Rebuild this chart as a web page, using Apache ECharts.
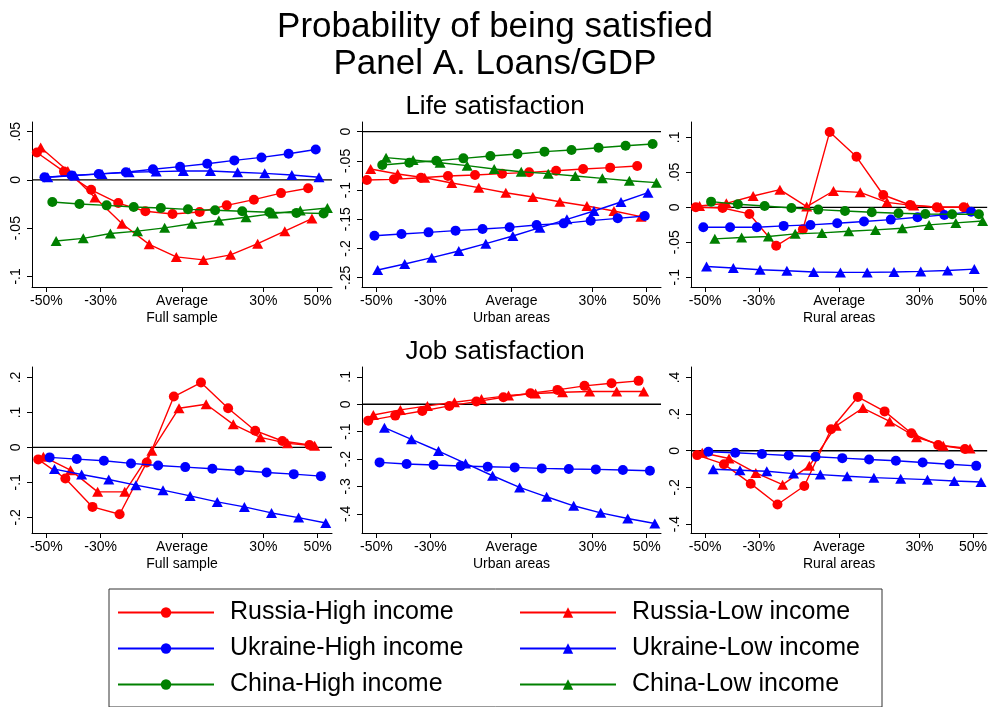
<!DOCTYPE html>
<html>
<head>
<meta charset="utf-8">
<script src="https://cdn.jsdelivr.net/npm/echarts@6/dist/echarts.min.js"></script>
<style>
  html, body { margin: 0; padding: 0; background: #fff; }
  #chart { width: 990px; height: 707px; }
</style>
</head>
<body>
<div id="chart"></div>
<script>
// Deviation of Loans/GDP from its average (percent)
const xLevels = [-50, -40, -30, -20, -10, 0, 10, 20, 30, 40, 50];
const xTicks = [-50, -30, 0, 30, 50];
// Small horizontal dodge per group (percentage points), so overlapping groups stay readable
const lifeDodge = [-3.5, -2.1, -0.7, 0.5, 2.2, 3.6];
const jobDodge = [-3.0, -1.1, 1.2, 3.0];

const seriesNames = [
  'Russia-High income', 'Russia-Low income',
  'Ukraine-High income', 'Ukraine-Low income',
  'China-High income', 'China-Low income'
];

// Life satisfaction — full sample
const lifeFullRussiaHigh  = [0.0284, 0.0086, -0.0103, -0.0240, -0.0325, -0.0353, -0.0332, -0.0264, -0.0205, -0.0137, -0.0086];
const lifeFullRussiaLow   = [0.0336, 0.0092, -0.0182, -0.0455, -0.0668, -0.0798, -0.0829, -0.0777, -0.0661, -0.0531, -0.0401];
const lifeFullUkraineHigh = [0.0027, 0.0045, 0.0062, 0.0079, 0.0110, 0.0137, 0.0168, 0.0202, 0.0233, 0.0271, 0.0315];
const lifeFullUkraineLow  = [0.0027, 0.0045, 0.0062, 0.0079, 0.0086, 0.0092, 0.0092, 0.0079, 0.0068, 0.0051, 0.0027];
const lifeFullChinaHigh   = [-0.0229, -0.0250, -0.0264, -0.0281, -0.0291, -0.0305, -0.0315, -0.0325, -0.0336, -0.0342, -0.0349];
const lifeFullChinaLow    = [-0.0634, -0.0606, -0.0555, -0.0531, -0.0497, -0.0455, -0.0421, -0.0387, -0.0349, -0.0318, -0.0291];

// Life satisfaction — urban areas
const lifeUrbanRussiaHigh  = [-0.0828, -0.0816, -0.0788, -0.0759, -0.0742, -0.0719, -0.0696, -0.0668, -0.0639, -0.0616, -0.0588];
const lifeUrbanRussiaLow   = [-0.0639, -0.0725, -0.0788, -0.0879, -0.0959, -0.1045, -0.1119, -0.1199, -0.1273, -0.1358, -0.1455];
const lifeUrbanUkraineHigh = [-0.1781, -0.1752, -0.1724, -0.1695, -0.1667, -0.1638, -0.1598, -0.1570, -0.1524, -0.1484, -0.1444];
const lifeUrbanUkraineLow  = [-0.2369, -0.2266, -0.2158, -0.2043, -0.1918, -0.1787, -0.1644, -0.1501, -0.1358, -0.1204, -0.1045];
const lifeUrbanChinaHigh   = [-0.0571, -0.0531, -0.0497, -0.0457, -0.0417, -0.0382, -0.0342, -0.0314, -0.0274, -0.0240, -0.0211];
const lifeUrbanChinaLow    = [-0.0445, -0.0485, -0.0531, -0.0582, -0.0639, -0.0685, -0.0719, -0.0759, -0.0799, -0.0839, -0.0873];

// Life satisfaction — rural areas
const lifeRuralRussiaHigh  = [0.0000, -0.0010, -0.0095, -0.0551, -0.0314, 0.1078, 0.0722, 0.0176, 0.0033, 0.0000, 0.0000];
const lifeRuralRussiaLow   = [0.0019, 0.0057, 0.0162, 0.0252, 0.0010, 0.0233, 0.0214, 0.0071, 0.0024, 0.0000, 0.0000];
const lifeRuralUkraineHigh = [-0.0285, -0.0285, -0.0285, -0.0266, -0.0252, -0.0228, -0.0204, -0.0176, -0.0143, -0.0109, -0.0062];
const lifeRuralUkraineLow  = [-0.0846, -0.0869, -0.0893, -0.0907, -0.0926, -0.0931, -0.0931, -0.0926, -0.0917, -0.0903, -0.0884];
const lifeRuralChinaHigh   = [0.0081, 0.0043, 0.0019, -0.0010, -0.0033, -0.0052, -0.0071, -0.0086, -0.0095, -0.0100, -0.0100];
const lifeRuralChinaLow    = [-0.0451, -0.0432, -0.0418, -0.0380, -0.0366, -0.0342, -0.0323, -0.0299, -0.0252, -0.0223, -0.0195];

// Job satisfaction — full sample
const jobFullRussiaHigh  = [-0.0344, -0.0890, -0.1703, -0.1914, -0.0431, 0.1455, 0.1856, 0.1120, 0.0478, 0.0182, 0.0067];
const jobFullRussiaLow   = [-0.0268, -0.0651, -0.1273, -0.1273, -0.0096, 0.1120, 0.1234, 0.0660, 0.0287, 0.0115, 0.0048];
const jobFullUkraineHigh = [-0.0287, -0.0335, -0.0383, -0.0459, -0.0517, -0.0565, -0.0612, -0.0660, -0.0718, -0.0766, -0.0823];
const jobFullUkraineLow  = [-0.0622, -0.0775, -0.0919, -0.1081, -0.1225, -0.1388, -0.1560, -0.1703, -0.1876, -0.2010, -0.2163];

// Job satisfaction — urban areas
const jobUrbanRussiaHigh  = [-0.0598, -0.0415, -0.0244, -0.0061, 0.0098, 0.0256, 0.0402, 0.0524, 0.0671, 0.0768, 0.0854];
const jobUrbanRussiaLow   = [-0.0390, -0.0207, -0.0061, 0.0073, 0.0195, 0.0317, 0.0390, 0.0439, 0.0463, 0.0463, 0.0463];
const jobUrbanUkraineHigh = [-0.2122, -0.2183, -0.2220, -0.2256, -0.2280, -0.2305, -0.2341, -0.2366, -0.2378, -0.2402, -0.2427];
const jobUrbanUkraineLow  = [-0.0854, -0.1280, -0.1707, -0.2159, -0.2610, -0.3037, -0.3378, -0.3707, -0.3963, -0.4171, -0.4354];

// Job satisfaction — rural areas
const jobRuralRussiaHigh  = [-0.0239, -0.0734, -0.1798, -0.2936, -0.1927, 0.1174, 0.2936, 0.2147, 0.0954, 0.0312, 0.0092];
const jobRuralRussiaLow   = [-0.0110, -0.0422, -0.1211, -0.1853, -0.0826, 0.1358, 0.2330, 0.1596, 0.0734, 0.0275, 0.0128];
const jobRuralUkraineHigh = [-0.0055, -0.0110, -0.0183, -0.0257, -0.0330, -0.0404, -0.0477, -0.0550, -0.0642, -0.0734, -0.0826];
const jobRuralUkraineLow  = [-0.1009, -0.1064, -0.1119, -0.1248, -0.1303, -0.1394, -0.1468, -0.1523, -0.1578, -0.1651, -0.1706];

// Y-axis tick labels for each panel
const lifeFullTicks  = [-0.1, -0.05, 0, 0.05];
const lifeUrbanTicks = [-0.25, -0.2, -0.15, -0.1, -0.05, 0];
const lifeRuralTicks = [-0.1, -0.05, 0, 0.05, 0.1];
const jobFullTicks   = [-0.2, -0.1, 0, 0.1, 0.2];
const jobUrbanTicks  = [-0.4, -0.3, -0.2, -0.1, 0, 0.1];
const jobRuralTicks  = [-0.4, -0.2, 0, 0.2, 0.4];

const FONT = '"Liberation Sans", Arial, Helvetica, sans-serif';
const RED = '#ff0000', BLUE = '#0000ff', GREEN = '#008000';
const styleByName = {
  'Russia-High income':  { color: RED,   symbol: 'circle' },
  'Russia-Low income':   { color: RED,   symbol: 'triangle' },
  'Ukraine-High income': { color: BLUE,  symbol: 'circle' },
  'Ukraine-Low income':  { color: BLUE,  symbol: 'triangle' },
  'China-High income':   { color: GREEN, symbol: 'circle' },
  'China-Low income':    { color: GREEN, symbol: 'triangle' }
};

const X_MIN = -55.3, X_MAX = 55.3;
const cols = [{ left: 32, width: 300 }, { left: 362, width: 299 }, { left: 691, width: 299 }];
const rows = [{ top: 122, height: 165 }, { top: 367, height: 166 }];

const panels = [
  { row: 0, col: 0, name: 'Full sample',  yMin: -0.111, yMax: 0.060, ticks: lifeFullTicks,  dodge: lifeDodge,
    values: [lifeFullRussiaHigh, lifeFullRussiaLow, lifeFullUkraineHigh, lifeFullUkraineLow, lifeFullChinaHigh, lifeFullChinaLow] },
  { row: 0, col: 1, name: 'Urban areas',  yMin: -0.266, yMax: 0.0166, ticks: lifeUrbanTicks, dodge: lifeDodge,
    values: [lifeUrbanRussiaHigh, lifeUrbanRussiaLow, lifeUrbanUkraineHigh, lifeUrbanUkraineLow, lifeUrbanChinaHigh, lifeUrbanChinaLow] },
  { row: 0, col: 2, name: 'Rural areas',  yMin: -0.114, yMax: 0.122, ticks: lifeRuralTicks, dodge: lifeDodge,
    values: [lifeRuralRussiaHigh, lifeRuralRussiaLow, lifeRuralUkraineHigh, lifeRuralUkraineLow, lifeRuralChinaHigh, lifeRuralChinaLow] },
  { row: 1, col: 0, name: 'Full sample',  yMin: -0.245, yMax: 0.230, ticks: jobFullTicks,  dodge: jobDodge,
    values: [jobFullRussiaHigh, jobFullRussiaLow, jobFullUkraineHigh, jobFullUkraineLow] },
  { row: 1, col: 1, name: 'Urban areas',  yMin: -0.470, yMax: 0.136, ticks: jobUrbanTicks, dodge: jobDodge,
    values: [jobUrbanRussiaHigh, jobUrbanRussiaLow, jobUrbanUkraineHigh, jobUrbanUkraineLow] },
  { row: 1, col: 2, name: 'Rural areas',  yMin: -0.449, yMax: 0.457, ticks: jobRuralTicks, dodge: jobDodge,
    values: [jobRuralRussiaHigh, jobRuralRussiaLow, jobRuralUkraineHigh, jobRuralUkraineLow] }
];

const fmtY = v => {
  if (Math.abs(v) < 1e-9) return '0';
  return String(+v.toFixed(3)).replace('0.', '.');
};
const fmtX = v => (Math.abs(v) < 1e-9 ? 'Average' : v + '%');

const axisTextStyle = { color: '#000', fontFamily: FONT, fontSize: 14 };

const grid = [], xAxis = [], yAxis = [], series = [];

panels.forEach((p, i) => {
  grid.push({ left: cols[p.col].left, width: cols[p.col].width, top: rows[p.row].top, height: rows[p.row].height, containLabel: false });

  xAxis.push({
    type: 'value', gridIndex: i, min: X_MIN, max: X_MAX,
    name: p.name, nameLocation: 'middle', nameGap: 24,
    nameTextStyle: { color: '#000', fontFamily: FONT, fontSize: 14 },
    axisLine: { show: true, onZero: false, lineStyle: { color: '#000', width: 1 } },
    axisTick: { show: true, length: 5, customValues: xTicks, lineStyle: { color: '#000' } },
    axisLabel: { ...axisTextStyle, margin: 7, customValues: xTicks, formatter: fmtX },
    splitLine: { show: false }
  });

  yAxis.push({
    type: 'value', gridIndex: i, min: p.yMin, max: p.yMax,
    axisLine: { show: true, onZero: false, lineStyle: { color: '#000', width: 1 } },
    axisTick: { show: true, length: 5, customValues: p.ticks, lineStyle: { color: '#000' } },
    axisLabel: { ...axisTextStyle, margin: 9, rotate: 90, customValues: p.ticks, formatter: fmtY },
    splitLine: { show: false }
  });

  // Reference line at zero
  series.push({
    name: 'zero', type: 'line', xAxisIndex: i, yAxisIndex: i, z: 1,
    data: [[X_MIN, 0], [X_MAX, 0]], symbol: 'none', silent: true,
    lineStyle: { color: '#000', width: 1.3 }
  });

  p.values.forEach((vals, k) => {
    const name = seriesNames[k];
    const st = styleByName[name];
    series.push({
      name, type: 'line', xAxisIndex: i, yAxisIndex: i, z: 2 + k,
      data: vals.map((v, j) => [xLevels[j] + p.dodge[k], v]),
      symbol: st.symbol,
      symbolSize: st.symbol === 'circle' ? 10 : [11, 10],
      showSymbol: true,
      itemStyle: { color: st.color },
      lineStyle: { color: st.color, width: 1.4 },
      emphasis: { disabled: true }
    });
  });
});

const legendText = { color: '#000', fontFamily: FONT, fontSize: 25, lineHeight: 25, padding: [0, 0, 0, 11] };

const option = {
  backgroundColor: '#fff',
  animation: false,
  title: [
    { text: 'Probability of being satisfied\nPanel A. Loans/GDP', left: 'center', top: 4,
      textStyle: { color: '#000', fontFamily: FONT, fontSize: 35, fontWeight: 'normal', lineHeight: 37 } },
    { text: 'Life satisfaction', left: 'center', top: 89,
      textStyle: { color: '#000', fontFamily: FONT, fontSize: 26, fontWeight: 'normal', lineHeight: 26 } },
    { text: 'Job satisfaction', left: 'center', top: 334,
      textStyle: { color: '#000', fontFamily: FONT, fontSize: 26, fontWeight: 'normal', lineHeight: 26 } }
  ],
  legend: [
    { data: ['Russia-High income', 'Ukraine-High income', 'China-High income'],
      orient: 'vertical', left: 117, top: 600, padding: 0, itemGap: 11,
      itemWidth: 96, itemHeight: 13, textStyle: legendText, selectedMode: false },
    { data: ['Russia-Low income', 'Ukraine-Low income', 'China-Low income'],
      orient: 'vertical', left: 519, top: 600, padding: 0, itemGap: 11,
      itemWidth: 96, itemHeight: 13, textStyle: legendText, selectedMode: false }
  ],
  graphic: [
    { type: 'rect', left: 106.5, top: 586.5, shape: { width: 773, height: 118 },
      style: { fill: 'none', stroke: '#333', lineWidth: 1 }, silent: true }
  ],
  grid, xAxis, yAxis, series
};

const chart = echarts.init(document.getElementById('chart'), null, { renderer: 'canvas' });
chart.setOption(option);
</script>
</body>
</html>
